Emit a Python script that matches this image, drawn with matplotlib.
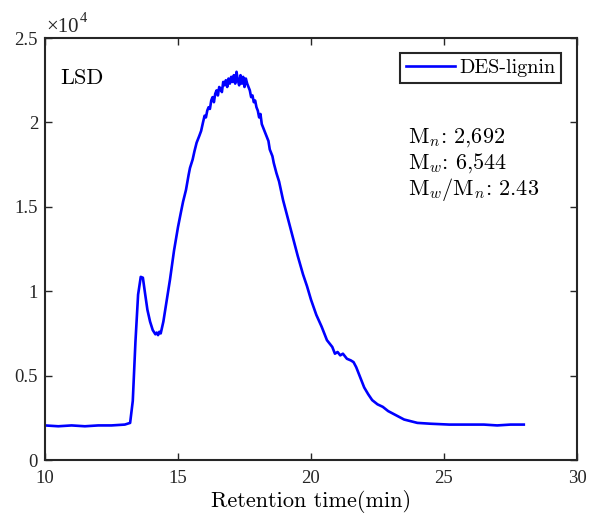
import matplotlib
matplotlib.use("Agg")
import matplotlib.pyplot as plt
import numpy as np

plt.rcParams['font.family'] = 'serif'
plt.rcParams['font.serif'] = ['cmr10']
plt.rcParams['mathtext.fontset'] = 'cm'

# Retention time (min) and LSD signal
time = [10.0, 10.5, 11.0, 11.5, 12.0, 12.5, 13.0, 13.2, 13.3, 13.4, 13.5, 13.6, 13.68, 13.75,
        13.85, 13.95, 14.05, 14.15, 14.2, 14.25, 14.3, 14.35, 14.45, 14.55, 14.7, 14.85, 15.0,
        15.1, 15.19, 15.3, 15.4, 15.45, 15.55, 15.62, 15.7, 15.8, 15.87, 15.94, 16.0, 16.05,
        16.1, 16.15, 16.2, 16.25, 16.3, 16.35, 16.4, 16.45, 16.5, 16.55, 16.6, 16.65, 16.7,
        16.75, 16.8, 16.85, 16.9, 16.95, 17.0, 17.05, 17.1, 17.15, 17.2, 17.25, 17.3, 17.35,
        17.4, 17.45, 17.5, 17.55, 17.6, 17.65, 17.7, 17.75, 17.8, 17.85, 17.9, 17.95, 18.0,
        18.05, 18.1, 18.15, 18.2, 18.3, 18.4, 18.45, 18.55, 18.6, 18.7, 18.8, 18.95, 19.1,
        19.3, 19.5, 19.7, 19.85, 20.0, 20.2, 20.4, 20.6, 20.8, 20.9, 21.0, 21.1, 21.2, 21.35,
        21.5, 21.6, 21.7, 21.85, 22.0, 22.15, 22.3, 22.5, 22.7, 22.9, 23.2, 23.5, 24.0, 24.5,
        25.2, 26.0, 26.5, 27.0, 27.5, 28.0]
signal = [2050, 2000, 2050, 2000, 2050, 2050, 2100, 2200, 3500, 7000, 9800, 10850, 10800, 10000,
          8900, 8200, 7700, 7450, 7550, 7400, 7600, 7500, 8200, 9200, 10700, 12400, 13800,
          14600, 15300, 16000, 16900, 17300, 17800, 18300, 18800, 19200, 19500, 20000, 20400, 20300,
          20700, 20900, 20800, 21300, 21500, 21200, 21700, 21900, 21600, 22100, 22000, 21800, 22400,
          22200, 22500, 22100, 22600, 22300, 22700, 22400, 22800, 22300, 23000, 22500, 22200, 22800,
          22300, 22700, 22100, 22600, 22300, 22100, 21900, 21500, 21600, 21200, 21300, 20900, 20700,
          20300, 20500, 19900, 19700, 19300, 18900, 18400, 18000, 17600, 17000, 16500, 15400, 14500,
          13300, 12100, 11000, 10300, 9500, 8600, 7900, 7100, 6700, 6300, 6400, 6200, 6300, 6000,
          5900, 5800, 5500, 4900, 4300, 3900, 3550, 3300, 3150, 2900, 2650, 2400, 2200, 2150,
          2100, 2100, 2100, 2050, 2100, 2100]

xticks = [10, 15, 20, 25, 30]
yticks = [0, 5000, 10000, 15000, 20000, 25000]
ytick_labels = ['0', '0.5', '1', '1.5', '2', '2.5']

fig = plt.figure(figsize=(5.89, 5.14), dpi=100)
ax = fig.add_axes([0.0764, 0.105, 0.9032, 0.821])
ax.plot(time, signal, color='#0000ff', lw=1.9, label='DES-lignin')

ax.set_xlim(10, 30)
ax.set_ylim(0, 25000)
ax.set_xticks(xticks)
ax.set_xticklabels([str(v) for v in xticks], fontfamily='Liberation Serif')
ax.set_yticks(yticks)
ax.set_yticklabels(ytick_labels, fontfamily='Liberation Serif')
ax.tick_params(direction='in', top=True, right=True, labelsize=13.5, length=5, width=1.0,
               color='#262626', labelcolor='#262626')
ax.tick_params(axis='x', pad=7)
ax.tick_params(axis='y', pad=5)
for s in ax.spines.values():
    s.set_linewidth(1.5)
    s.set_color('#262626')

fig.text(46 / 589, 1 - 28 / 514, '\u00d710', fontsize=15, fontfamily='Liberation Serif',
         ha='left', va='center', color='#262626')
fig.text(80 / 589, 1 - 19 / 514, '4', fontsize=10.5, fontfamily='Liberation Serif',
         ha='left', va='center', color='#262626')

ax.set_xlabel('Retention time(min)', fontsize=16, labelpad=2)

ax.text(0.029, 0.905, 'LSD', transform=ax.transAxes, fontsize=16, ha='left', va='center')
ax.text(0.682, 0.764, r'M$_n$: 2,692', transform=ax.transAxes, fontsize=16, ha='left', va='center')
ax.text(0.682, 0.704, r'M$_w$: 6,544', transform=ax.transAxes, fontsize=16, ha='left', va='center')
ax.text(0.682, 0.640, r'M$_w$/M$_n$: 2.43', transform=ax.transAxes, fontsize=16, ha='left', va='center')

leg = ax.legend(loc='upper right', bbox_to_anchor=(0.97, 0.965), fontsize=14.5, frameon=True,
                fancybox=False, framealpha=1, edgecolor='#262626', handlelength=2.4,
                borderpad=0.3, handletextpad=0.2, borderaxespad=0)
leg.get_frame().set_linewidth(1.5)

fig.savefig('out.png', dpi=100)
